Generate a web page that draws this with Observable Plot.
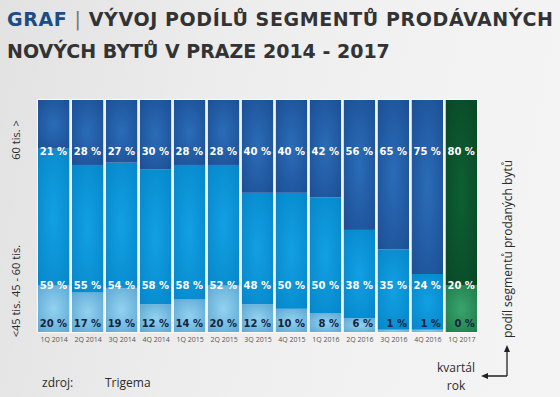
<!DOCTYPE html>
<html><head><meta charset="utf-8">
<script src="https://cdn.jsdelivr.net/npm/d3@7"></script>
<script src="https://cdn.jsdelivr.net/npm/@observablehq/plot@0.6"></script>
<style>
html,body{margin:0;padding:0}
body{width:560px;height:397px;overflow:hidden;position:relative;font-family:"Open Sans",sans-serif;
background:linear-gradient(100deg,#e2e2e2 0%,#ececec 35%,#f2f2f2 70%,#f4f4f4 100%)}
#title{position:absolute;left:7px;top:3px;font-family:"DejaVu Sans",sans-serif;font-weight:700;font-size:19px;line-height:32px;color:#333;white-space:nowrap;z-index:2}
#title .l1{letter-spacing:0.6px}
#chart{position:absolute;left:0;top:0}
</style></head><body>
<div id="title"><span class="l1"><span style="color:#1d4b85">GRAF</span> <span style="font-weight:400;color:#777">|</span> VÝVOJ PODÍLŮ SEGMENTŮ PRODÁVANÝCH</span><br>NOVÝCH BYTŮ V PRAZE 2014 - 2017</div>
<div id="chart"></div>
<script>
const quarters = ["1Q 2014","2Q 2014","3Q 2014","4Q 2014","1Q 2015","2Q 2015","3Q 2015","4Q 2015","1Q 2016","2Q 2016","3Q 2016","4Q 2016","1Q 2017"];
const below45 = [20,17,19,12,14,20,12,10,8,6,1,1,0];
const mid45to60 = [59,55,54,58,58,52,48,50,50,38,35,24,20];
const above60 = [21,28,27,30,28,28,40,40,42,56,65,75,80];
const segmentLabels = ["<45 tis.","45 - 60 tis.","60 tis. >"];
const rightLabel = "podíl segmentů prodaných bytů";
const axisNote = ["kvartál","rok"];
const source = ["zdroj:","Trigema"];

const data = [];
quarters.forEach((q,i)=>{
  data.push({q, seg:0, v:below45[i]}, {q, seg:1, v:mid45to60[i]}, {q, seg:2, v:above60[i]});
});
const blueFills = ["url(#gBot)","url(#gMid)","url(#gTop)"];
const greenFills = ["url(#gGBot)","url(#gGMid)","url(#gGTop)"];
const fillOf = d => (d.q === "1Q 2017" ? greenFills : blueFills)[d.seg];
const lbl = {textAnchor: "end", dx: 13, fontWeight: 700, fontSize: 10, fontFamily: "DejaVu Sans, sans-serif", frameAnchor: "top"};

const plot = Plot.plot({
  width: 560, height: 397,
  marginTop: 100, marginBottom: 65, marginLeft: 38, marginRight: 83,
  style: {background: "transparent", fontFamily: "Open Sans, sans-serif"},
  x: {domain: quarters, paddingInner: 0.08, paddingOuter: 0, round: false, label: null, tickSize: 0, tickPadding: 5},
  y: {axis: null, domain: [0, 1]},
  color: {type: "identity"},
  marks: [
    Plot.barY(data, Plot.stackY({x: "q", y: "v", offset: "normalize", fill: "none", stroke: "#f8fafc", strokeWidth: 2.2})),
    Plot.barY(data, Plot.stackY({x: "q", y: "v", offset: "normalize", fill: fillOf})),
    Plot.axisX({tickSize: 0, tickPadding: 5, fontSize: 7, fill: "#555", label: null}),
    Plot.text(quarters, {...lbl, x: d => d, text: (d,i) => above60[i] + " %", dy: 47, fill: "white"}),
    Plot.text(quarters, {...lbl, x: d => d, text: (d,i) => mid45to60[i] + " %", dy: 181, fill: "white"}),
    Plot.text(quarters, {...lbl, x: d => d, text: (d,i) => below45[i] + " %", dy: 219, fill: "#16243d"})
  ]
});
document.getElementById("chart").appendChild(plot);

const svg = d3.select(plot);
const defs = svg.insert("defs", ":first-child");
function radial(id, center, edge) {
  const g = defs.append("radialGradient").attr("id", id).attr("cx", "50%").attr("cy", "50%").attr("r", "70%");
  g.append("stop").attr("offset", "0%").attr("stop-color", center);
  g.append("stop").attr("offset", "100%").attr("stop-color", edge);
}
radial("gTop", "#2a6cb8", "#1c4f94");
radial("gMid", "#12a0e2", "#0686cb");
radial("gBot", "#92d2f0", "#5ea8d4");
radial("gGTop", "#0d5f33", "#094727");
radial("gGMid", "#3aa46d", "#1f7c4b");
radial("gGBot", "#3aa46d", "#1f7c4b");

const ink = "#2b2b2b";
const ys = [319, 271, 140];
segmentLabels.forEach((t, i) => {
  svg.append("text").attr("transform", `translate(15,${ys[i]}) rotate(-90)`)
    .attr("text-anchor", "middle").attr("dominant-baseline", "central")
    .attr("font-size", 11).attr("fill", ink).text(t);
});
svg.append("text").attr("transform", "translate(507,249) rotate(-90)")
  .attr("text-anchor", "middle").attr("dominant-baseline", "central")
  .attr("font-size", 12).attr("fill", ink).text(rightLabel);

svg.append("path").attr("d", "M507,376 V351 M507,376 H487").attr("stroke", "#222").attr("stroke-width", 1.3).attr("fill", "none");
svg.append("path").attr("d", "M507,345 L504,352 L510,352 Z M481,376 L488,373 L488,379 Z").attr("fill", "#222");
svg.append("text").attr("x", 456).attr("y", 367).attr("text-anchor", "middle").attr("dominant-baseline", "central")
  .attr("font-size", 12).attr("fill", ink).text(axisNote[0]);
svg.append("text").attr("x", 456).attr("y", 385).attr("text-anchor", "middle").attr("dominant-baseline", "central")
  .attr("font-size", 12).attr("fill", ink).text(axisNote[1]);
svg.append("text").attr("x", 42).attr("y", 382).attr("text-anchor", "start").attr("dominant-baseline", "central")
  .attr("font-size", 12).attr("fill", ink).text(source[0]);
svg.append("text").attr("x", 105).attr("y", 382).attr("text-anchor", "start").attr("dominant-baseline", "central")
  .attr("font-size", 12).attr("fill", ink).text(source[1]);
</script>
</body></html>
